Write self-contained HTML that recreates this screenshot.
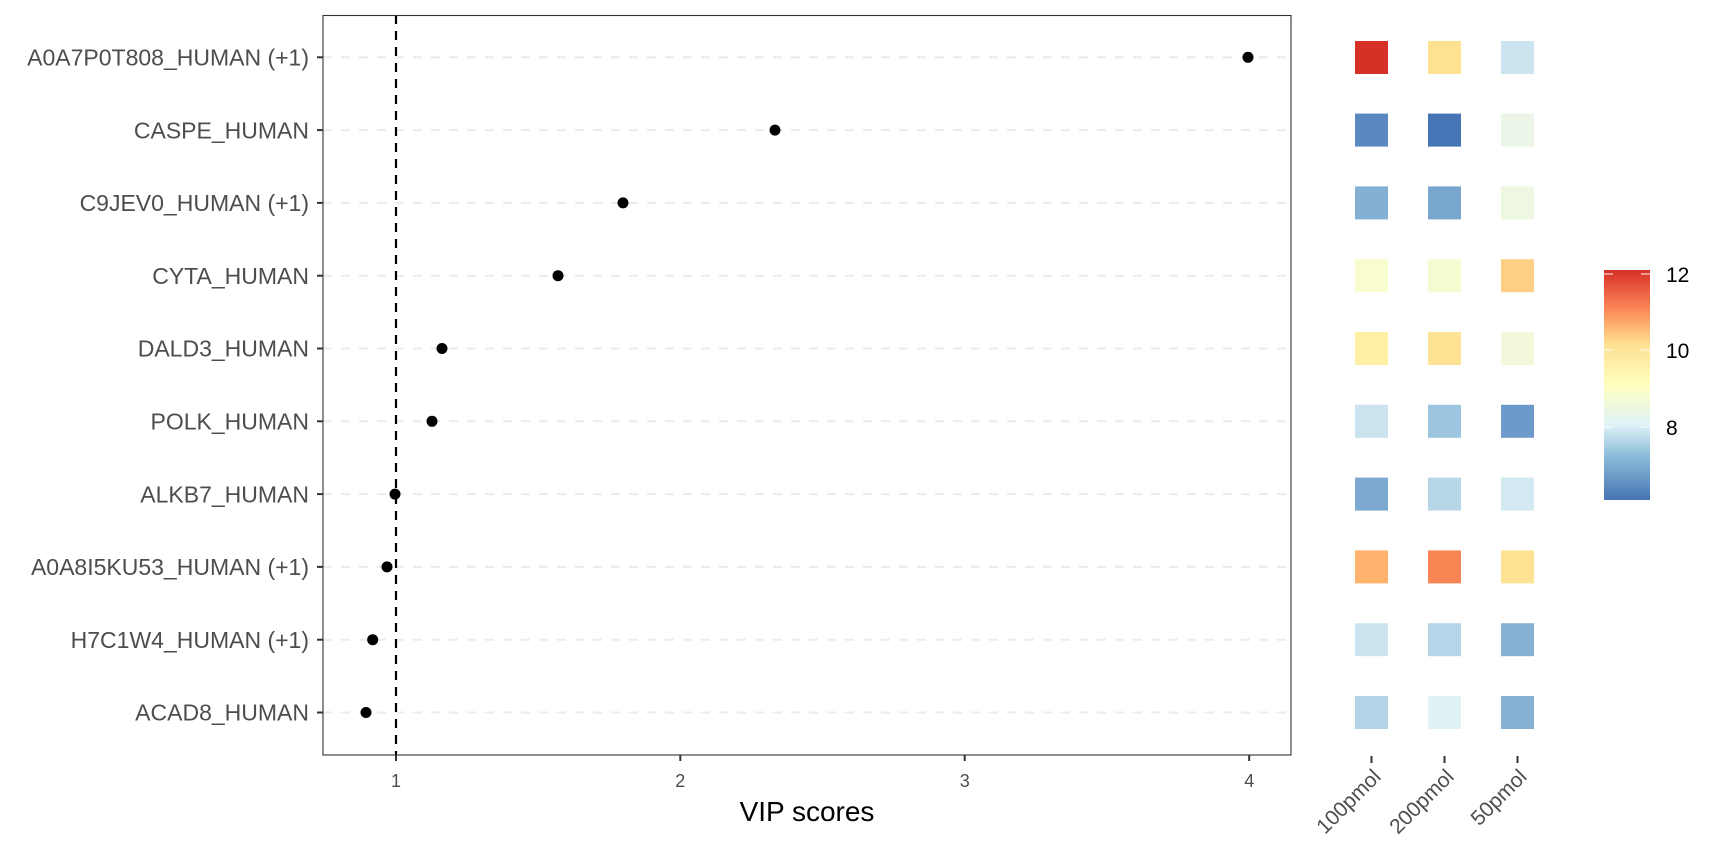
<!DOCTYPE html>
<html><head><meta charset="utf-8"><style>
html,body{margin:0;padding:0;background:#fff;}
svg{display:block;font-family:"Liberation Sans",Arial,sans-serif;}
</style></head><body>
<svg width="1728" height="865" viewBox="0 0 1728 865" xmlns="http://www.w3.org/2000/svg">
<defs>
<linearGradient id="cb" x1="0" y1="1" x2="0" y2="0">
<stop offset="0" stop-color="#4575b4"/>
<stop offset="0.2" stop-color="#91bfdb"/>
<stop offset="0.33" stop-color="#e0f3f8"/>
<stop offset="0.5" stop-color="#ffffbf"/>
<stop offset="0.68" stop-color="#fee090"/>
<stop offset="0.82" stop-color="#fc8d59"/>
<stop offset="1" stop-color="#d73027"/>
</linearGradient>
</defs>
<g stroke="#ebebeb" stroke-width="2" stroke-dasharray="9,9">
<line x1="323" x2="1291" y1="57.3" y2="57.3"/>
<line x1="323" x2="1291" y1="130.1" y2="130.1"/>
<line x1="323" x2="1291" y1="202.9" y2="202.9"/>
<line x1="323" x2="1291" y1="275.7" y2="275.7"/>
<line x1="323" x2="1291" y1="348.5" y2="348.5"/>
<line x1="323" x2="1291" y1="421.3" y2="421.3"/>
<line x1="323" x2="1291" y1="494.1" y2="494.1"/>
<line x1="323" x2="1291" y1="566.9" y2="566.9"/>
<line x1="323" x2="1291" y1="639.7" y2="639.7"/>
<line x1="323" x2="1291" y1="712.5" y2="712.5"/>
</g>
<line x1="396" x2="396" y1="15" y2="755" stroke="#000" stroke-width="2.2" stroke-dasharray="9,7"/>
<g fill="#000">
<circle cx="1248" cy="57.3" r="5.5"/>
<circle cx="775" cy="130.1" r="5.5"/>
<circle cx="623" cy="202.9" r="5.5"/>
<circle cx="558" cy="275.7" r="5.5"/>
<circle cx="442" cy="348.5" r="5.5"/>
<circle cx="432" cy="421.3" r="5.5"/>
<circle cx="395" cy="494.1" r="5.5"/>
<circle cx="387" cy="566.9" r="5.5"/>
<circle cx="372.7" cy="639.7" r="5.5"/>
<circle cx="366" cy="712.5" r="5.5"/>
</g>
<rect x="323" y="15.5" width="968" height="739.5" fill="none" stroke="#333" stroke-width="1.1"/>
<g stroke="#333" stroke-width="2">
<line x1="317" x2="323" y1="57.3" y2="57.3"/><line x1="317" x2="323" y1="130.1" y2="130.1"/>
<line x1="317" x2="323" y1="202.9" y2="202.9"/><line x1="317" x2="323" y1="275.7" y2="275.7"/>
<line x1="317" x2="323" y1="348.5" y2="348.5"/><line x1="317" x2="323" y1="421.3" y2="421.3"/>
<line x1="317" x2="323" y1="494.1" y2="494.1"/><line x1="317" x2="323" y1="566.9" y2="566.9"/>
<line x1="317" x2="323" y1="639.7" y2="639.7"/><line x1="317" x2="323" y1="712.5" y2="712.5"/>
<line x1="396" x2="396" y1="755" y2="761"/><line x1="680.3" x2="680.3" y1="755" y2="761"/>
<line x1="964.7" x2="964.7" y1="755" y2="761"/><line x1="1249.2" x2="1249.2" y1="755" y2="761"/>
</g>
<g font-size="23" fill="#4d4d4d" text-anchor="end">
<text x="309" y="65.5">A0A7P0T808_HUMAN (+1)</text>
<text x="309" y="138.3">CASPE_HUMAN</text>
<text x="309" y="211.1">C9JEV0_HUMAN (+1)</text>
<text x="309" y="283.9">CYTA_HUMAN</text>
<text x="309" y="356.7">DALD3_HUMAN</text>
<text x="309" y="429.5">POLK_HUMAN</text>
<text x="309" y="502.3">ALKB7_HUMAN</text>
<text x="309" y="575.1">A0A8I5KU53_HUMAN (+1)</text>
<text x="309" y="647.9">H7C1W4_HUMAN (+1)</text>
<text x="309" y="720.7">ACAD8_HUMAN</text>
</g>
<g font-size="18" fill="#4d4d4d" text-anchor="middle">
<text x="396" y="787">1</text><text x="680.3" y="787">2</text>
<text x="964.7" y="787">3</text><text x="1249.2" y="787">4</text>
</g>
<text x="807" y="821" font-size="28" text-anchor="middle" fill="#000">VIP scores</text>
<g>
<rect x="1355" y="41" width="33" height="33" fill="#d73027"/>
<rect x="1428" y="41" width="33" height="33" fill="#fee191"/>
<rect x="1501" y="41" width="33" height="33" fill="#cce4ef"/>
<rect x="1355" y="113.6" width="33" height="33" fill="#5b88c1"/>
<rect x="1428" y="113.6" width="33" height="33" fill="#4575b4"/>
<rect x="1501" y="113.6" width="33" height="33" fill="#ebf5e8"/>
<rect x="1355" y="186.4" width="33" height="33" fill="#83b0d3"/>
<rect x="1428" y="186.4" width="33" height="33" fill="#79a6cf"/>
<rect x="1501" y="186.4" width="33" height="33" fill="#edf7e2"/>
<rect x="1355" y="259.2" width="33" height="33" fill="#f9fccc"/>
<rect x="1428" y="259.2" width="33" height="33" fill="#f6fad0"/>
<rect x="1501" y="259.2" width="33" height="33" fill="#fece84"/>
<rect x="1355" y="332" width="33" height="33" fill="#fff0a5"/>
<rect x="1428" y="332" width="33" height="33" fill="#fee394"/>
<rect x="1501" y="332" width="33" height="33" fill="#f1f9da"/>
<rect x="1355" y="404.8" width="33" height="33" fill="#cae3ee"/>
<rect x="1428" y="404.8" width="33" height="33" fill="#9cc6df"/>
<rect x="1501" y="404.8" width="33" height="33" fill="#6d9acb"/>
<rect x="1355" y="477.6" width="33" height="33" fill="#7da9d0"/>
<rect x="1428" y="477.6" width="33" height="33" fill="#b7d7e8"/>
<rect x="1501" y="477.6" width="33" height="33" fill="#d2e9f1"/>
<rect x="1355" y="550.4" width="33" height="33" fill="#feb26c"/>
<rect x="1428" y="550.4" width="33" height="33" fill="#f88654"/>
<rect x="1501" y="550.4" width="33" height="33" fill="#fee294"/>
<rect x="1355" y="623.2" width="33" height="33" fill="#cce4ef"/>
<rect x="1428" y="623.2" width="33" height="33" fill="#b5d6e8"/>
<rect x="1501" y="623.2" width="33" height="33" fill="#86b1d4"/>
<rect x="1355" y="696" width="33" height="33" fill="#b2d4e6"/>
<rect x="1428" y="696" width="33" height="33" fill="#e0f2f6"/>
<rect x="1501" y="696" width="33" height="33" fill="#86b1d4"/>
</g>
<g stroke="#333" stroke-width="2">
<line x1="1371.5" x2="1371.5" y1="756" y2="763"/>
<line x1="1444.5" x2="1444.5" y1="756" y2="763"/>
<line x1="1517.5" x2="1517.5" y1="756" y2="763"/>
</g>
<g font-size="21" fill="#4d4d4d" text-anchor="end">
<text transform="translate(1382,778) rotate(-45)">100pmol</text>
<text transform="translate(1455,778) rotate(-45)">200pmol</text>
<text transform="translate(1528,778) rotate(-45)">50pmol</text>
</g>
<rect x="1604" y="270" width="46" height="230" fill="url(#cb)"/>
<g stroke="#fff" stroke-width="1.2" opacity="0.8">
<line x1="1604" x2="1613" y1="274" y2="274"/><line x1="1641" x2="1650" y1="274" y2="274"/>
<line x1="1604" x2="1613" y1="350" y2="350"/><line x1="1641" x2="1650" y1="350" y2="350"/>
<line x1="1604" x2="1613" y1="427" y2="427"/><line x1="1641" x2="1650" y1="427" y2="427"/>
</g>
<g font-size="21" fill="#000">
<text x="1666" y="282">12</text>
<text x="1666" y="358">10</text>
<text x="1666" y="435">8</text>
</g>
</svg>
</body></html>
